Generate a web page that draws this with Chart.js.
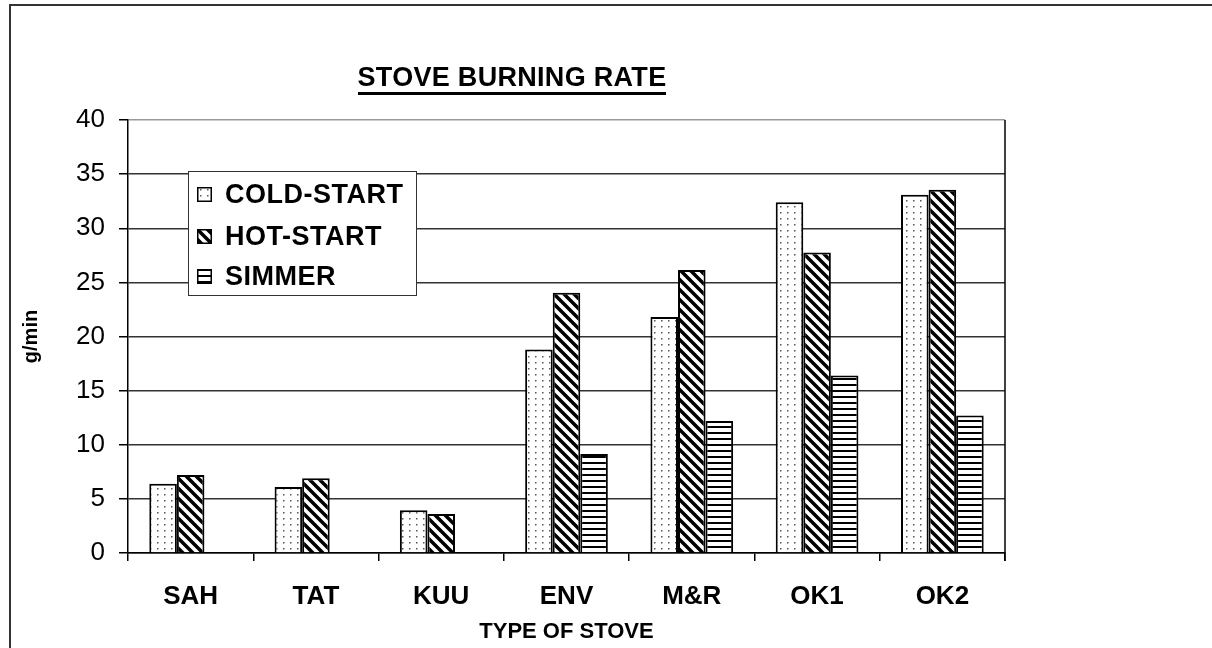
<!DOCTYPE html>
<html>
<head>
<meta charset="utf-8">
<script src="https://cdn.jsdelivr.net/npm/chart.js@4"></script>
<style>
  body { margin: 0; background: #fff; font-family: 'Liberation Sans', Arial, sans-serif; }
  #wrap { position: relative; width: 1212px; height: 648px; overflow: hidden; }
  #frame { position: absolute; left: 9px; top: 4px; width: 2000px; height: 2000px;
    border-left: 2px solid #333; border-top: 2px solid #333; }
  canvas#chart { position: absolute; left: 0; top: 0; }
  #title { position: absolute; top: 64px; left: 0; width: 1024px; text-align: center;
    font: bold 27px 'Liberation Sans', Arial, sans-serif; letter-spacing: 0.3px; line-height: 27px; }
  #title span { border-bottom: 3px solid #000; padding-bottom: 0; }
  #legend { position: absolute; left: 188px; top: 171px; width: 227px; height: 123px;
    border: 1.5px solid #333; background: #fff; }
  .item { position: absolute; left: 8px; height: 30px; display: flex; align-items: center;
    font: bold 27px 'Liberation Sans', Arial, sans-serif; letter-spacing: 0.5px; }
  .item canvas { width: 15px; height: 15px; margin-right: 13px; }
</style>
</head>
<body>
<div id="wrap">
  <div id="frame"></div>
  <canvas id="chart" width="1212" height="648"></canvas>
  <div id="title"><span>STOVE BURNING RATE</span></div>
  <div id="legend"></div>
</div>
<script>
const stoves = ['SAH', 'TAT', 'KUU', 'ENV', 'M&R', 'OK1', 'OK2'];
const seriesNames = ['COLD-START', 'HOT-START', 'SIMMER'];
const coldStart = [6.4, 6.1, 3.95, 18.8, 21.8, 32.4, 33.1];
const hotStart = [7.2, 6.9, 3.6, 24.05, 26.15, 27.75, 33.55];
const simmer = [null, null, null, 9.15, 12.2, 16.4, 12.7];
const yTicks = [0, 5, 10, 15, 20, 25, 30, 35, 40];

// fill patterns, one per series
function makePattern(kind) {
  const c = document.createElement('canvas');
  const g = c.getContext('2d');
  if (kind === 'dots') {
    c.width = 7; c.height = 6;
    g.fillStyle = '#fff'; g.fillRect(0, 0, 7, 6);
    g.fillStyle = '#555'; g.fillRect(3, 2, 1.5, 1.5);
  } else if (kind === 'diag') {
    c.width = 10; c.height = 10;
    g.fillStyle = '#fff'; g.fillRect(0, 0, 10, 10);
    g.strokeStyle = '#000'; g.lineWidth = 3.5;
    g.beginPath();
    g.moveTo(-2, -2); g.lineTo(12, 12);
    g.moveTo(-12, -2); g.lineTo(2, 12);
    g.moveTo(8, -2); g.lineTo(22, 12);
    g.stroke();
  } else {
    c.width = 4; c.height = 6;
    g.fillStyle = '#fff'; g.fillRect(0, 0, 4, 6);
    g.fillStyle = '#000'; g.fillRect(0, 0, 4, 2);
  }
  return c;
}

const patternKinds = ['dots', 'diag', 'hlines'];
const ctx = document.getElementById('chart').getContext('2d');
const fills = patternKinds.map(k => ctx.createPattern(makePattern(k), 'repeat'));

// html legend with the same swatches
const legend = document.getElementById('legend');
const rowTops = [7, 49, 89];
seriesNames.forEach((name, i) => {
  const row = document.createElement('div');
  row.className = 'item';
  row.style.top = rowTops[i] + 'px';
  const sw = document.createElement('canvas');
  sw.width = 15; sw.height = 15;
  const sg = sw.getContext('2d');
  sg.fillStyle = sg.createPattern(makePattern(patternKinds[i]), 'repeat');
  sg.fillRect(0, 0, 15, 15);
  sg.strokeStyle = '#000'; sg.lineWidth = 1.5;
  sg.strokeRect(0.75, 0.75, 13.5, 13.5);
  row.appendChild(sw);
  row.appendChild(document.createTextNode(name));
  legend.appendChild(row);
});

const plotBorder = {
  id: 'plotBorder',
  afterDraw(chart) {
    const a = chart.chartArea;
    const c = chart.ctx;
    c.save();
    c.strokeStyle = '#000';
    c.lineWidth = 1.5;
    c.beginPath();
    c.moveTo(a.right, a.top);
    c.lineTo(a.right, a.bottom + 8);
    c.stroke();
    c.restore();
  }
};

new Chart(ctx, {
  type: 'bar',
  data: {
    labels: stoves,
    datasets: [coldStart, hotStart, simmer].map((vals, i) => ({
      label: seriesNames[i],
      data: vals,
      backgroundColor: fills[i],
      borderColor: '#000',
      borderWidth: 2,
      categoryPercentage: 0.66,
      barPercentage: 1.0
    }))
  },
  options: {
    responsive: false,
    animation: false,
    layout: { padding: { top: 120, right: 207, left: 0, bottom: 0 } },
    plugins: { legend: { display: false }, tooltip: { enabled: false }, title: { display: false } },
    scales: {
      x: {
        afterFit(s) { s.height = 95; },
        grid: { drawOnChartArea: false, drawTicks: true, tickLength: 8, color: '#000', lineWidth: 1.5 },
        border: { display: true, color: '#000', width: 1.5 },
        ticks: { color: '#000', padding: 20, font: { family: "'Liberation Sans', Arial, sans-serif", size: 26, weight: 'bold' } },
        title: { display: true, text: 'TYPE OF STOVE', color: '#000',
          font: { family: "'Liberation Sans', Arial, sans-serif", size: 22, weight: 'bold' },
          padding: { top: 0, bottom: 3 } }
      },
      y: {
        min: 0, max: 40,
        afterFit(s) { s.width = 128; },
        afterBuildTicks(s) { s.ticks = yTicks.map(v => ({ value: v })); },
        grid: { color: c => (c.tick && c.tick.value === 40 ? '#999' : '#333'), lineWidth: 1.5,
          tickLength: 9, tickColor: '#000' },
        border: { display: true, color: '#000', width: 1.5 },
        ticks: { color: '#000', padding: 14, font: { family: "'Liberation Sans', Arial, sans-serif", size: 26 } },
        title: { display: true, text: 'g/min', color: '#000',
          font: { family: "'Liberation Sans', Arial, sans-serif", size: 20, weight: 'bold' },
          padding: { top: 19, bottom: 0 } }
      }
    }
  },
  plugins: [plotBorder]
});
</script>
</body>
</html>
